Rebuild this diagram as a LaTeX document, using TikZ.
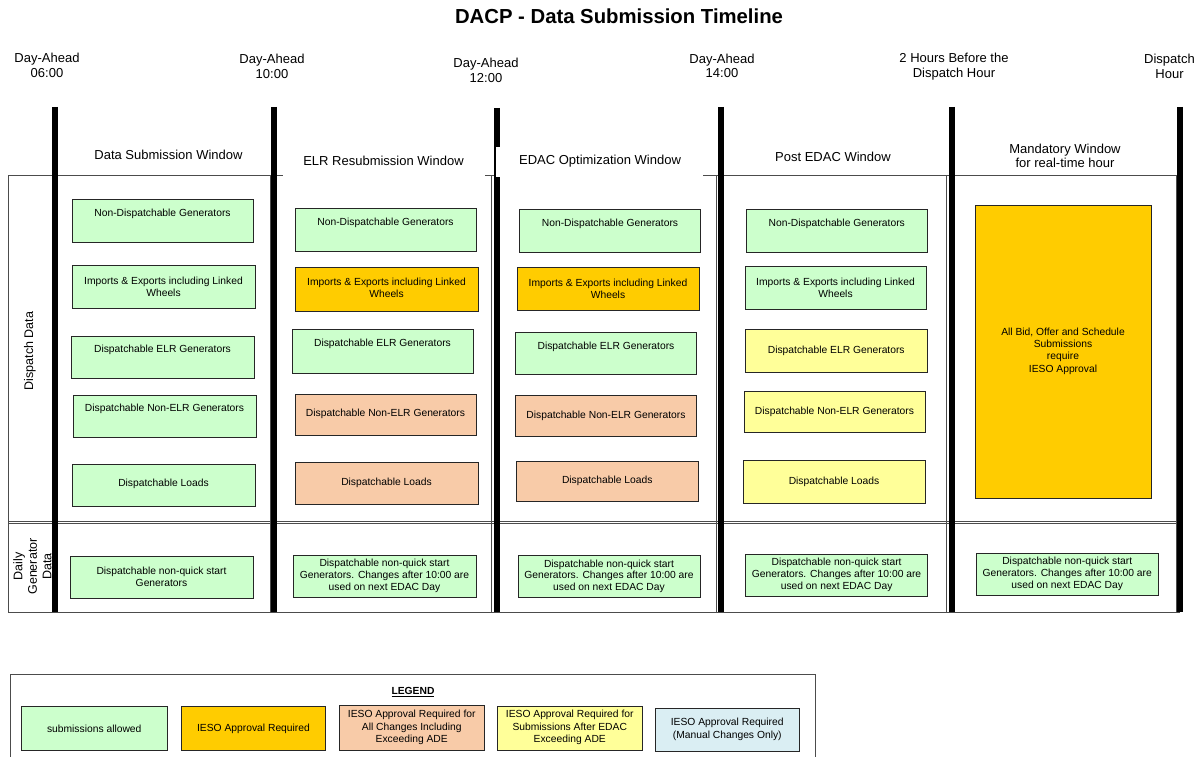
\documentclass[tikz,border=0pt]{standalone}
\usepackage{fontspec}
\setmainfont{Liberation Sans}
\definecolor{cgreen}{HTML}{CCFFCC}
\definecolor{corange}{HTML}{FFCC00}
\definecolor{cpeach}{HTML}{F8CBA8}
\definecolor{cyellow}{HTML}{FFFF99}
\definecolor{cblue}{HTML}{DAEEF3}
\newcommand{\cbox}[8]{%
  \node[#1, minimum width={#5-#3}, minimum height={#6-#4}] (#2) at ({(#3+#5)/2},{(#4+#6)/2}) {};
  \node[bt] (#2t) at ({(#3+#5)/2},#7) {#8};
}
\begin{document}
\begin{tikzpicture}[x=1pt,y=-1pt,
  tl/.style={align=center,font=\fontsize{13}{14.5}\selectfont,inner sep=0pt},
  bt/.style={align=center,font=\fontsize{10.3}{11.8}\selectfont,inner sep=0pt},
  lt/.style={align=center,font=\fontsize{10.3}{12.4}\selectfont,inner sep=0pt},
  bxs/.style={draw=black!85,line width=0.9pt,inner sep=0pt,outer sep=0pt},
  gbox/.style={bxs,fill=cgreen},
  obox/.style={bxs,fill=corange},
  pbox/.style={bxs,fill=cpeach},
  ybox/.style={bxs,fill=cyellow},
  bbox/.style={bxs,fill=cblue},
  tline/.style={line width=6pt,black},
  grid/.style={draw=black!70,line width=0.9pt},
  hbox/.style={fill=white,inner sep=0pt,outer sep=0pt}]
\useasboundingbox (0,0) rectangle (1202,757);

% title
\node[font=\bfseries\fontsize{20.3}{23}\selectfont] (title) at (619,16) {DACP - Data Submission Timeline};

% time labels
\node[tl] (t1) at (47,65.5) {Day-Ahead\\06:00};
\node[tl] (t2) at (272,66.5) {Day-Ahead\\10:00};
\node[tl] (t3) at (486,70.5) {Day-Ahead\\12:00};
\node[tl] (t4) at (722,66) {Day-Ahead\\14:00};
\node[tl] (t5) at (954,66.5) {2 Hours Before the\\Dispatch Hour};
\node[tl] (t6) at (1169.5,66.5) {Dispatch\\Hour};

% grid
\draw[grid] (8,175.5) -- (1180,175.5);
\draw[grid] (8,175.5) -- (8,612) -- (1180,612);
\draw[grid] (8,521.5) -- (1180,521.5);
\draw[grid] (8,523.8) -- (1180,523.8);
\foreach \gx in {270.5,491,716,946.5,1176}{\draw[grid] (\gx,175.5) -- (\gx,612);}

% row labels
\node[tl,rotate=90,font=\fontsize{12.5}{14.5}\selectfont] (rl1) at (30,351) {Dispatch Data};
\node[tl,rotate=90,font=\fontsize{12.5}{14.5}\selectfont] (rl2) at (32.5,566.5) {Daily\\Generator\\Data};

% column 1
\cbox{gbox}{aa}{72}{199}{253}{242}{214}{Non-Dispatchable Generators}
\cbox{gbox}{ab}{72}{265}{255}{308}{286.5}{Imports \& Exports including Linked\\Wheels}
\cbox{gbox}{ac}{71}{336}{254}{378}{350}{Dispatchable ELR Generators}
\cbox{gbox}{ad}{73}{395}{256}{437}{409}{Dispatchable Non-ELR Generators}
\cbox{gbox}{ae}{72}{464}{255}{506}{484}{Dispatchable Loads}
\cbox{gbox}{af}{70}{556}{253}{598}{576.5}{Dispatchable non-quick start\\Generators}

% column 2
\cbox{gbox}{ba}{295}{208}{476}{251}{223}{Non-Dispatchable Generators}
\cbox{obox}{bb}{295}{267}{478}{311}{288}{Imports \& Exports including Linked\\Wheels}
\cbox{gbox}{bc}{292}{329}{473}{373}{344}{Dispatchable ELR Generators}
\cbox{pbox}{bd}{295}{394}{476}{435}{414}{Dispatchable Non-ELR Generators}
\cbox{pbox}{be}{295}{462}{478}{504}{483}{Dispatchable Loads}
\cbox{gbox}{bf}{293}{555}{476}{597}{576}{Dispatchable non-quick start\\Generators. Changes after 10:00 are\\used on next EDAC Day}

% column 3
\cbox{gbox}{ca}{519.5}{209}{700.5}{252}{224}{Non-Dispatchable Generators}
\cbox{obox}{cb}{517}{267.5}{699}{310}{288.5}{Imports \& Exports including Linked\\Wheels}
\cbox{gbox}{cc}{515.5}{332}{696.5}{374.5}{346.7}{Dispatchable ELR Generators}
\cbox{pbox}{cd}{515.5}{395}{696.5}{436.7}{415.7}{Dispatchable Non-ELR Generators}
\cbox{pbox}{ce}{516}{461}{698.5}{501}{480.7}{Dispatchable Loads}
\cbox{gbox}{cf}{518}{555.3}{700}{597}{576.2}{Dispatchable non-quick start\\Generators. Changes after 10:00 are\\used on next EDAC Day}

% column 4
\cbox{gbox}{da}{746.5}{209}{927}{252}{224}{Non-Dispatchable Generators}
\cbox{gbox}{db}{745}{266.3}{926}{309.3}{287.7}{Imports \& Exports including Linked\\Wheels}
\cbox{ybox}{dc}{745}{329.3}{927.5}{372.3}{350.7}{Dispatchable ELR Generators}
\cbox{ybox}{dd}{744}{391.7}{925}{432.7}{411.7}{Dispatchable Non-ELR Generators}
\cbox{ybox}{de}{743}{460.7}{925}{503.3}{481.7}{Dispatchable Loads}
\cbox{gbox}{df}{745.7}{554.3}{927.5}{596}{574.7}{Dispatchable non-quick start\\Generators. Changes after 10:00 are\\used on next EDAC Day}

% column 5
\node[obox, minimum width=176, minimum height=293] (ea) at (1063,351.5) {};
\node[lt] (eat) at (1063,351) {All Bid, Offer and Schedule\\Submissions\\require\\IESO Approval};
\cbox{gbox}{ef}{976}{553.3}{1158.5}{595}{573.7}{Dispatchable non-quick start\\Generators. Changes after 10:00 are\\used on next EDAC Day}

% thick time lines
\draw[tline] (55,107) -- (55,612);
\draw[tline] (274,107) -- (274,612);
\draw[tline] (496.5,108) -- (496.5,612);
\draw[tline] (720.5,107) -- (720.5,612);
\draw[tline] (952,107) -- (952,612);
\draw[tline] (1180,107) -- (1180,612);

% column headers
\node[tl] (h1) at (168.5,155) {Data Submission Window};
\node[hbox, minimum width=202, minimum height=30] (h2b) at (384,162) {};
\node[tl] (h2) at (383.5,160.7) {ELR Resubmission Window};
\node[hbox, minimum width=207, minimum height=30] (h3b) at (599.5,162) {};
\node[tl] (h3) at (600,160.7) {EDAC Optimization Window};
\node[tl] (h4) at (833,156.7) {Post EDAC Window};
\node[tl] (h5) at (1065,155.8) {Mandatory Window\\for real-time hour};

% legend
\draw[grid] (10,760) -- (10,674.5) -- (815,674.5) -- (815,760);
\node[font=\bfseries\fontsize{10.3}{12}\selectfont,inner sep=0pt] (lg) at (413,692) {\underline{LEGEND}};
\node[gbox, minimum width=145.5, minimum height=44] (la) at (94.25,728.7) {};
\node[lt] (lat) at (94.25,729) {submissions allowed};
\node[obox, minimum width=144, minimum height=44] (lb) at (253.5,728.7) {};
\node[lt] (lbt) at (253.5,729) {IESO Approval Required};
\node[pbox, minimum width=145.5, minimum height=44.3] (lc) at (411.75,727.85) {};
\node[lt] (lct) at (411.75,727.7) {IESO Approval Required for\\All Changes Including\\Exceeding ADE};
\node[ybox, minimum width=144.5, minimum height=44] (ld) at (569.75,728.7) {};
\node[lt] (ldt) at (569.75,727.7) {IESO Approval Required for\\Submissions After EDAC\\Exceeding ADE};
\node[bbox, minimum width=144.5, minimum height=43.4] (le) at (727.25,730) {};
\node[lt] (let) at (727.25,729.5) {IESO Approval Required\\(Manual Changes Only)};
\end{tikzpicture}
\end{document}
